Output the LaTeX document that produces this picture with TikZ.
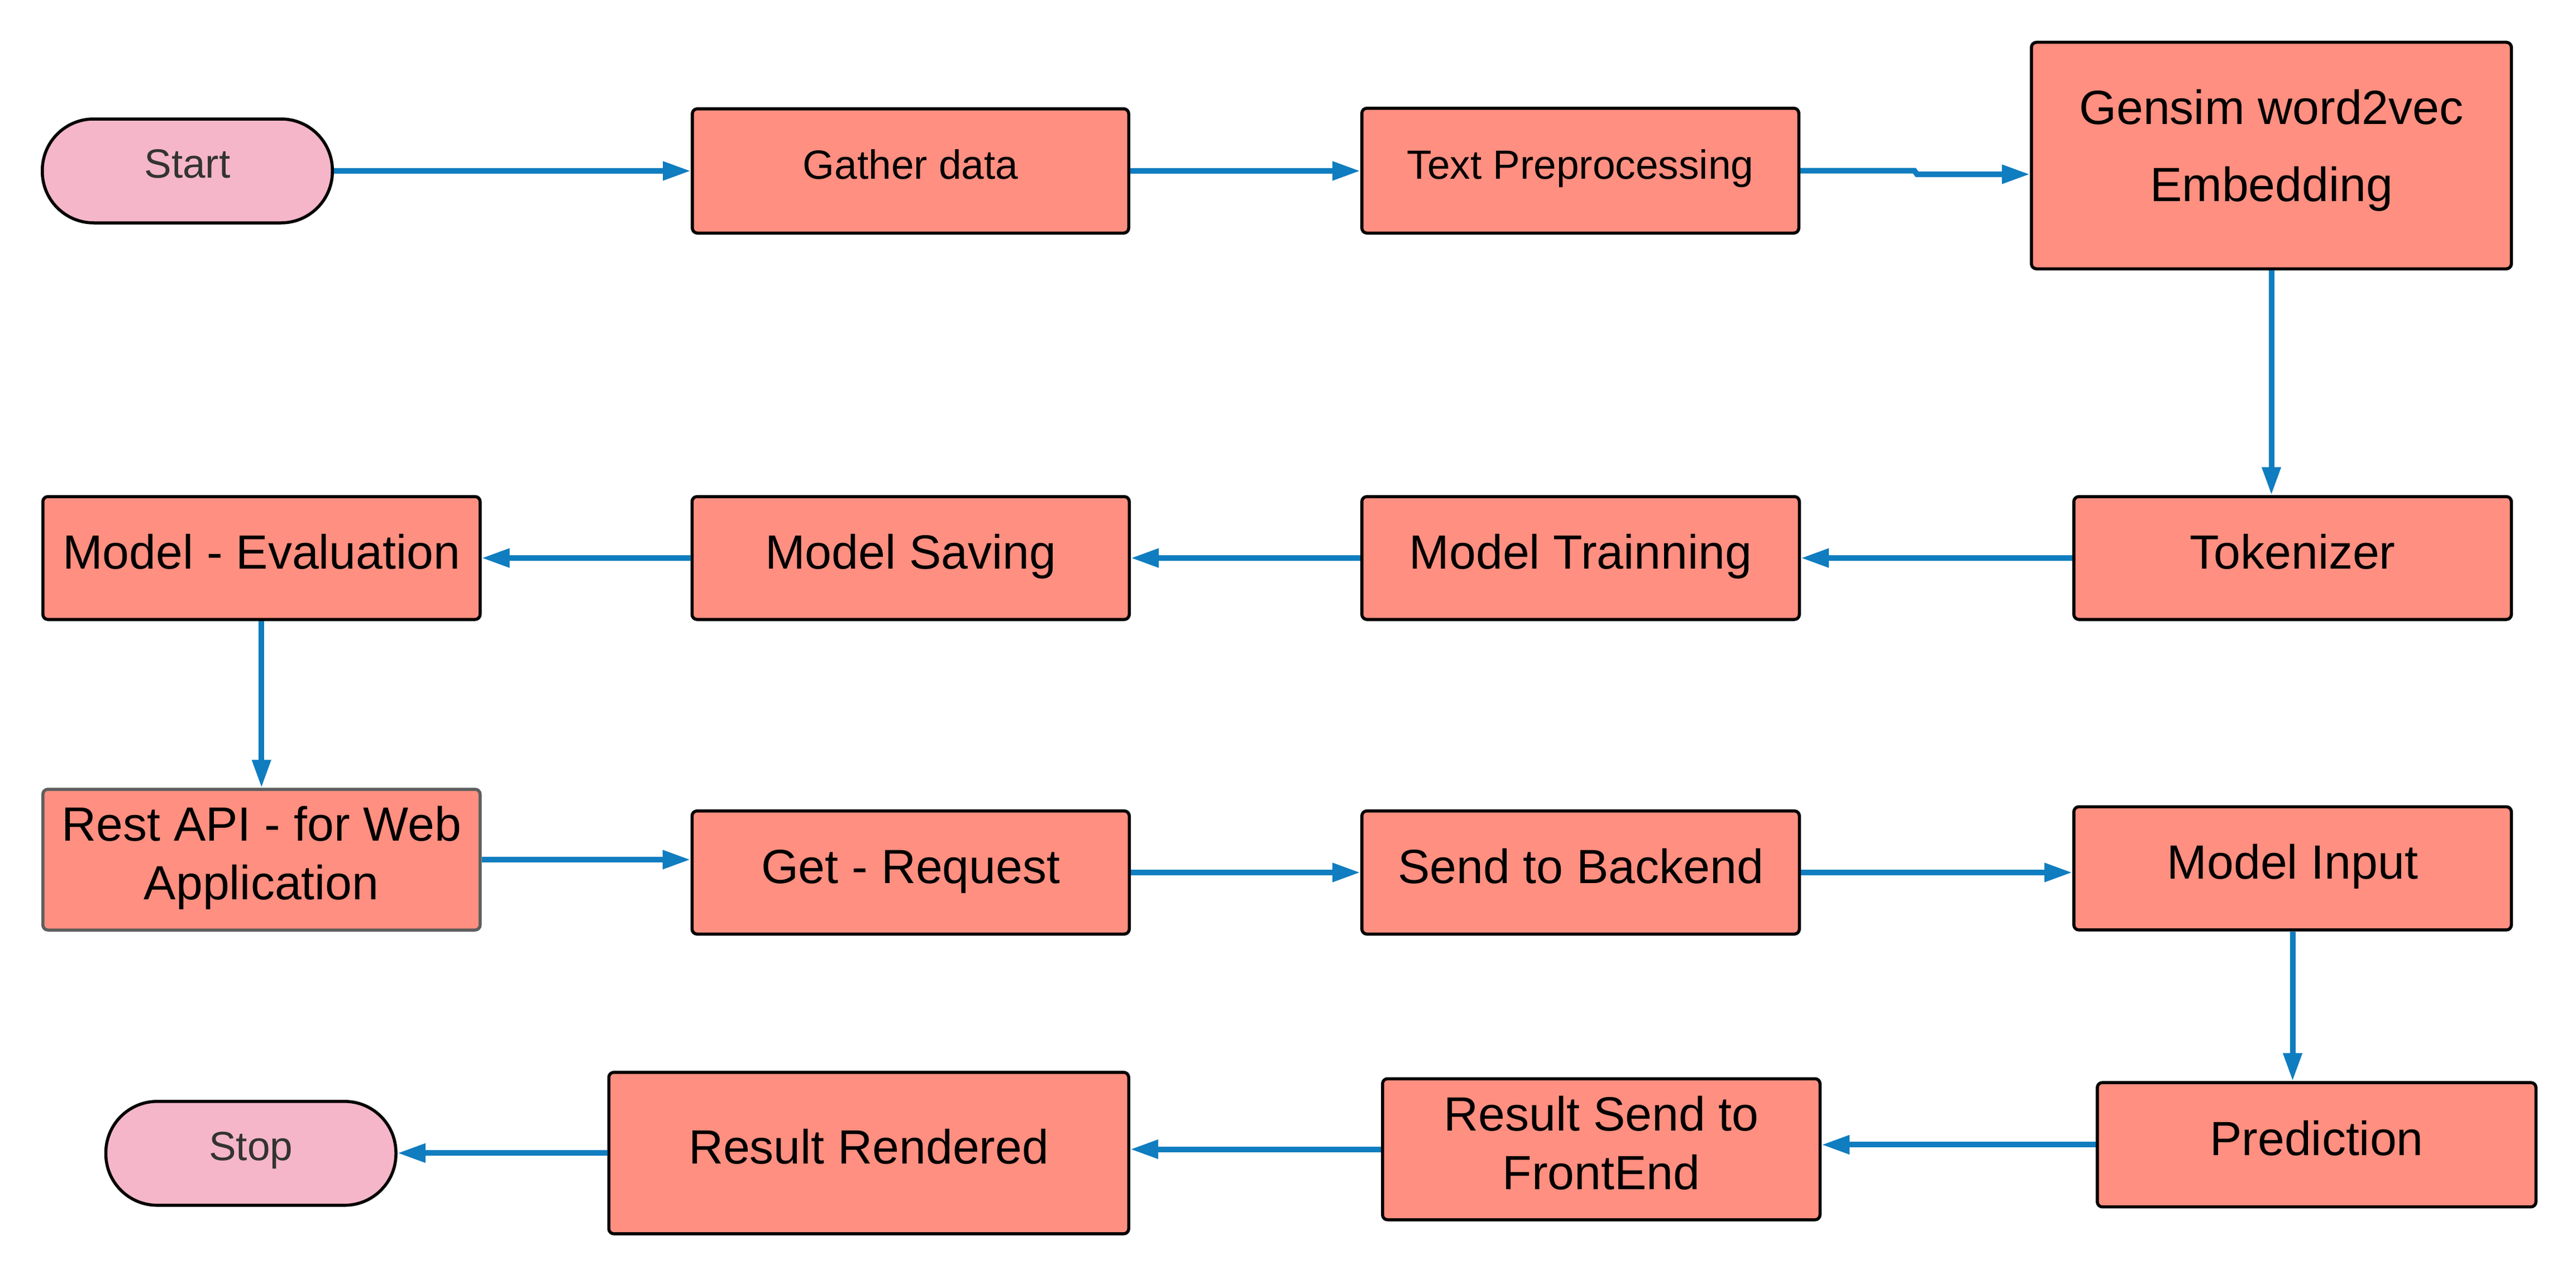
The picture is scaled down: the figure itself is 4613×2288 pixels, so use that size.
\documentclass[tikz,border=0pt]{standalone}
\usepackage{fontspec}
\setmainfont{Liberation Sans}
\usetikzlibrary{arrows.meta}
\definecolor{boxfill}{HTML}{FF8F80}
\definecolor{termfill}{HTML}{F4B6C8}
\definecolor{flowblue}{HTML}{0F7DBF}
\definecolor{bordergray}{HTML}{5E5E5E}
\definecolor{textgray}{HTML}{333333}
\newcommand\myhtop[1]{\rule{0pt}{#1}}
\newcommand\myhbot[1]{\rule[-#1]{0pt}{#1}}
\begin{document}
\begin{tikzpicture}[x=1pt,y=-1pt,
  box/.style={draw=black, line width=5.5pt, fill=boxfill, rounded corners=9pt,
    inner sep=0pt, align=center, font=\fontsize{86pt}{105pt}\selectfont},
  one/.style={text height=60pt, text depth=22pt},
  small/.style={font=\fontsize{73pt}{88pt}\selectfont, text height=51pt, text depth=22pt},
  term/.style={draw=black, line width=5.5pt, fill=termfill, rounded corners=92pt,
    inner sep=0pt, text=textgray, font=\fontsize{73pt}{88pt}\selectfont,
    text height=51pt, text depth=26pt, minimum width=519.5pt, minimum height=186pt},
  flow/.style={draw=flowblue, line width=10pt, -{Triangle[length=50pt,width=32pt]}}
]
\fill[white] (0,0) rectangle (4613,2288);
\useasboundingbox (0,0) rectangle (4613,2288);

% row 1
\node[term] (start) at (335.5,306) {Start};
\node[box,small,minimum width=781.5pt,minimum height=222.5pt] (gather) at (1630.5,306) {Gather data};
\node[box,small,minimum width=782.5pt,minimum height=223.5pt] (textpre) at (2830,305.5) {Text Preprocessing};
\node[box,minimum width=859.5pt,minimum height=405.5pt,font=\fontsize{86pt}{138pt}\selectfont] (gensim) at (4067.5,278.5)
  {\myhtop{64pt}Gensim word2vec\\\myhbot{39pt}Embedding};

% row 2
\node[box,one,minimum width=783.5pt,minimum height=220pt] (tokenizer) at (4105.5,999) {Tokenizer};
\node[box,one,minimum width=783.5pt,minimum height=220pt] (training) at (2830.5,999) {Model Trainning};
\node[box,one,minimum width=783pt,minimum height=220pt] (saving) at (1630.75,999) {Model Saving};
\node[box,one,minimum width=783pt,minimum height=220pt] (eval) at (468.25,999) {Model - Evaluation};

% row 3
\node[box,draw=bordergray,minimum width=783pt,minimum height=252pt] (restapi) at (468.25,1539)
  {\myhtop{64pt}Rest API - for Web\\\myhbot{26pt}Application};
\node[box,one,minimum width=783pt,minimum height=220.5pt] (getreq) at (1630.75,1562) {Get - Request};
\node[box,one,minimum width=783.5pt,minimum height=220.5pt] (backend) at (2830.5,1562) {Send to Backend};
\node[box,one,minimum width=783.5pt,minimum height=220.5pt] (modelinput) at (4105.5,1554.6) {Model Input};

% row 4
\node[box,one,minimum width=785.5pt,minimum height=222.5pt] (prediction) at (4148.5,2049.4) {Prediction};
\node[box,minimum width=783.5pt,minimum height=252.5pt] (resultsend) at (2867.5,2057.5)
  {\myhtop{64pt}Result Send to\\\myhbot{26pt}FrontEnd};
\node[box,one,minimum width=931pt,minimum height=289pt] (rendered) at (1555.75,2064.3) {Result Rendered};
\node[term] (stop) at (449.3,2064.8) {Stop};

% connectors
\coordinate (j1) at (3428,306);
\coordinate (j2) at (3433,312);
\draw[flow] (start.east) -- (start.east -| gather.west);
\draw[flow] (gather.east) -- (gather.east -| textpre.west);
\draw[flow] (textpre.east) -- (textpre.east -| j1) -- (j2) -- (j2 -| gensim.west);
\draw[flow] (gensim.south) -- (gensim.south |- tokenizer.north);
\draw[flow] (tokenizer.west) -- (tokenizer.west -| training.east);
\draw[flow] (training.west) -- (training.west -| saving.east);
\draw[flow] (saving.west) -- (saving.west -| eval.east);
\draw[flow] (eval.south) -- (eval.south |- restapi.north);
\draw[flow] (restapi.east) -- (restapi.east -| getreq.west);
\draw[flow] (getreq.east) -- (getreq.east -| backend.west);
\draw[flow] (backend.east) -- (backend.east -| modelinput.west);
\draw[flow] (modelinput.south) -- (modelinput.south |- prediction.north);
\draw[flow] (prediction.west) -- (prediction.west -| resultsend.east);
\draw[flow] (resultsend.west) -- (resultsend.west -| rendered.east);
\draw[flow] (rendered.west) -- (rendered.west -| stop.east);
\end{tikzpicture}
\end{document}
